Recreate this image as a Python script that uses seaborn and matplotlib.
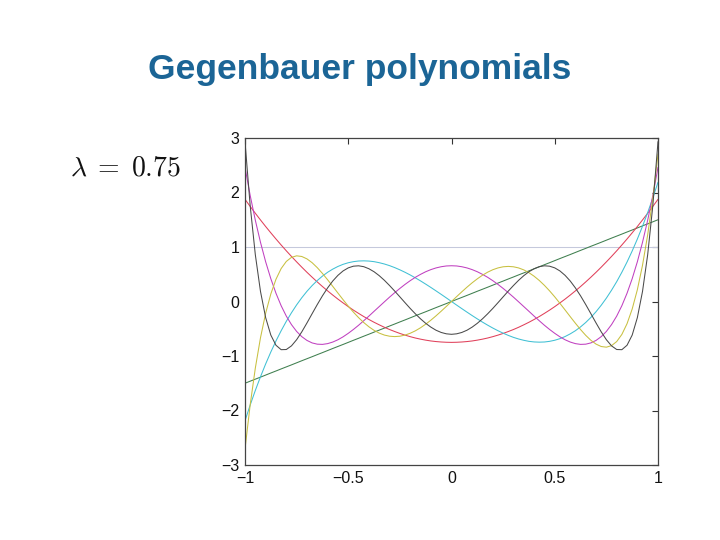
import numpy as np
import pandas as pd
import seaborn as sns
import matplotlib.pyplot as plt

# Gegenbauer polynomials, lambda = 0.75, degree 0..6, sampled on x = -1..1 (step 0.025)
x = np.linspace(-1, 1, 81)

c0 = [1.0] * 81
c1 = [-1.500, -1.462, -1.425, -1.388, -1.350, -1.312, -1.275, -1.237, -1.200, -1.163, -1.125, -1.087, -1.050, -1.013,
      -0.975, -0.938, -0.900, -0.862, -0.825, -0.788, -0.750, -0.712, -0.675, -0.637, -0.600, -0.562, -0.525, -0.488,
      -0.450, -0.413, -0.375, -0.338, -0.300, -0.262, -0.225, -0.188, -0.150, -0.112, -0.075, -0.038, 0.000,
      0.038, 0.075, 0.112, 0.150, 0.188, 0.225, 0.262, 0.300, 0.338, 0.375, 0.413, 0.450, 0.488, 0.525, 0.562, 0.600,
      0.637, 0.675, 0.712, 0.750, 0.788, 0.825, 0.862, 0.900, 0.938, 0.975, 1.013, 1.050, 1.087, 1.125, 1.163, 1.200,
      1.237, 1.275, 1.312, 1.350, 1.388, 1.425, 1.462, 1.500]
c2 = [1.875, 1.745, 1.619, 1.496, 1.376, 1.260, 1.147, 1.037, 0.930, 0.827, 0.727, 0.630, 0.536, 0.446, 0.359, 0.275,
      0.195, 0.118, 0.044, -0.026, -0.094, -0.158, -0.218, -0.276, -0.330, -0.381, -0.428, -0.473, -0.514, -0.551,
      -0.586, -0.617, -0.645, -0.670, -0.691, -0.709, -0.724, -0.735, -0.743, -0.748, -0.750,
      -0.748, -0.743, -0.735, -0.724, -0.709, -0.691, -0.670, -0.645, -0.617, -0.586, -0.551, -0.514, -0.473, -0.428,
      -0.381, -0.330, -0.276, -0.218, -0.158, -0.094, -0.026, 0.044, 0.118, 0.195, 0.275, 0.359, 0.446, 0.536, 0.630,
      0.727, 0.827, 0.930, 1.037, 1.147, 1.260, 1.376, 1.496, 1.619, 1.745, 1.875]
c3 = [-2.188, -1.901, -1.632, -1.381, -1.146, -0.927, -0.724, -0.537, -0.364, -0.207, -0.062, 0.069, 0.187, 0.292,
      0.385, 0.466, 0.536, 0.594, 0.643, 0.682, 0.711, 0.731, 0.743, 0.746, 0.742, 0.731, 0.712, 0.688, 0.658, 0.622,
      0.581, 0.536, 0.487, 0.434, 0.378, 0.319, 0.258, 0.195, 0.131, 0.066, 0.000,
      -0.066, -0.131, -0.195, -0.258, -0.319, -0.378, -0.434, -0.487, -0.536, -0.581, -0.622, -0.658, -0.688, -0.712,
      -0.731, -0.742, -0.746, -0.743, -0.731, -0.711, -0.682, -0.643, -0.594, -0.536, -0.466, -0.385, -0.292, -0.187,
      -0.069, 0.062, 0.207, 0.364, 0.537, 0.724, 0.927, 1.146, 1.381, 1.632, 1.901, 2.188]
c4 = [2.461, 1.948, 1.491, 1.086, 0.729, 0.419, 0.151, -0.077, -0.268, -0.424, -0.549, -0.645, -0.714, -0.760, -0.783,
      -0.787, -0.773, -0.744, -0.702, -0.648, -0.584, -0.513, -0.436, -0.353, -0.268, -0.180, -0.093, -0.006, 0.080,
      0.162, 0.240, 0.314, 0.382, 0.444, 0.498, 0.546, 0.585, 0.616, 0.638, 0.652, 0.656,
      0.652, 0.638, 0.616, 0.585, 0.546, 0.498, 0.444, 0.382, 0.314, 0.240, 0.162, 0.080, -0.006, -0.093, -0.180,
      -0.268, -0.353, -0.436, -0.513, -0.584, -0.648, -0.702, -0.744, -0.773, -0.787, -0.783, -0.760, -0.714, -0.645,
      -0.549, -0.424, -0.268, -0.077, 0.151, 0.419, 0.729, 1.086, 1.491, 1.948, 2.461]
c5 = [-2.707, -1.898, -1.222, -0.665, -0.216, 0.138, 0.408, 0.604, 0.735, 0.810, 0.838, 0.826, 0.782, 0.712, 0.621,
      0.515, 0.399, 0.278, 0.155, 0.033, -0.085, -0.195, -0.296, -0.386, -0.464, -0.529, -0.580, -0.616, -0.637,
      -0.644, -0.637, -0.616, -0.583, -0.538, -0.482, -0.416, -0.343, -0.263, -0.178, -0.090, 0.000,
      0.090, 0.178, 0.263, 0.343, 0.416, 0.482, 0.538, 0.583, 0.616, 0.637, 0.644, 0.637, 0.616, 0.580, 0.529, 0.464,
      0.386, 0.296, 0.195, 0.085, -0.033, -0.155, -0.278, -0.399, -0.515, -0.621, -0.712, -0.782, -0.826, -0.838,
      -0.810, -0.735, -0.604, -0.408, -0.138, 0.216, 0.665, 1.222, 1.898, 2.707]
c6 = [2.933, 1.761, 0.858, 0.185, -0.296, -0.616, -0.803, -0.884, -0.881, -0.814, -0.701, -0.557, -0.394, -0.224,
      -0.056, 0.104, 0.249, 0.376, 0.480, 0.561, 0.617, 0.648, 0.655, 0.639, 0.601, 0.546, 0.474, 0.389, 0.293, 0.191,
      0.085, -0.022, -0.127, -0.226, -0.318, -0.400, -0.470, -0.527, -0.568, -0.593, -0.602,
      -0.593, -0.568, -0.527, -0.470, -0.400, -0.318, -0.226, -0.127, -0.022, 0.085, 0.191, 0.293, 0.389, 0.474, 0.546,
      0.601, 0.639, 0.655, 0.648, 0.617, 0.561, 0.480, 0.376, 0.249, 0.104, -0.056, -0.224, -0.394, -0.557, -0.701,
      -0.814, -0.881, -0.884, -0.803, -0.616, -0.296, 0.185, 0.858, 1.761, 2.933]

series = [c0, c1, c2, c3, c4, c5, c6]
names = ["n=%d" % n for n in range(7)]
# matlab-ish default line colours as they come out in the picture
colors = ["#c5c9dc", "#3f7f4f", "#e0405a", "#40c0d4", "#c040c0", "#c8c040", "#4a4a4a"]

df = pd.DataFrame({
    "x": np.tile(x, len(series)),
    "y": np.concatenate([np.asarray(s, dtype=float) for s in series]),
    "n": np.repeat(names, len(x)),
})

sns.set_style("white")
plt.rcParams["font.family"] = ["Liberation Sans", "DejaVu Sans"]
plt.rcParams["mathtext.fontset"] = "cm"

fig = plt.figure(figsize=(7.2, 5.4), dpi=100)
ax = fig.add_axes([245 / 720, 1 - 465 / 540, 413 / 720, 327 / 540])

sns.lineplot(data=df, x="x", y="y", hue="n", hue_order=names, palette=colors,
             linewidth=0.75, legend=False, ax=ax, sort=False, estimator=None)

ax.set_xlim(-1, 1)
ax.set_ylim(-3, 3)
ax.set_xticks([-1, -0.5, 0, 0.5, 1])
ax.set_xticklabels(["\u22121", "\u22120.5", "0", "0.5", "1"])
ax.set_yticks([-3, -2, -1, 0, 1, 2, 3])
ax.set_yticklabels(["\u22123", "\u22122", "\u22121", "0", "1", "2", "3"])
ax.set_xlabel("")
ax.set_ylabel("")
ax.tick_params(direction="in", top=True, right=True, length=4, width=0.8,
               labelsize=11.5, colors="#333333", labelcolor="#111111", pad=4)
for sp in ax.spines.values():
    sp.set_visible(True)
    sp.set_color("#444444")
    sp.set_linewidth(0.9)

fig.text(0.5, 1 - 69 / 540, "Gegenbauer polynomials", ha="center", va="center",
         fontsize=25.5, fontweight="bold", color="#1b6596")
fig.text(70 / 720, 1 - 176 / 540, r"$\lambda\;=\;0.75$", ha="left", va="baseline",
         fontsize=20, color="#111111")

fig.savefig("out.png", dpi=100, facecolor="white")
